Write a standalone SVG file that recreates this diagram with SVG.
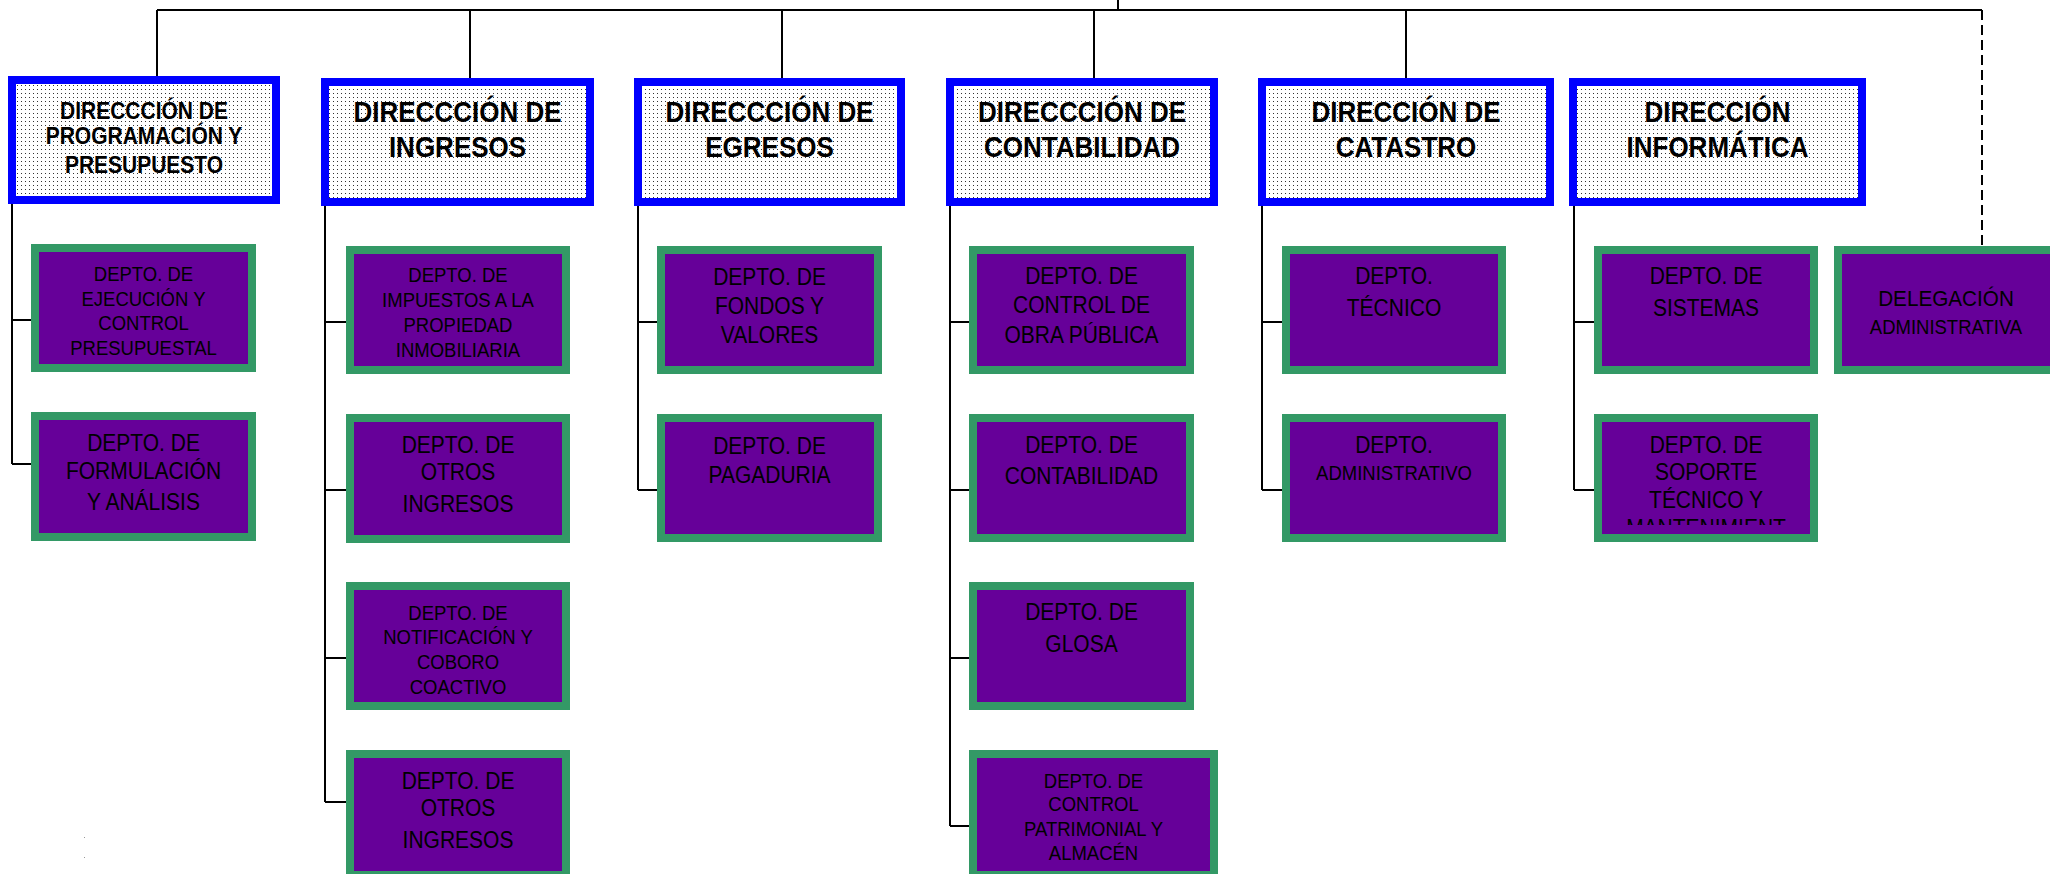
<svg xmlns="http://www.w3.org/2000/svg" width="2050" height="874" viewBox="0 0 2050 874">
<style>
.dir{fill:url(#dots);stroke:#0000FF;stroke-width:8}
.dep{fill:#660099;stroke:#339966;stroke-width:8}
.ln{fill:none;stroke:#000;stroke-width:2}
.dash{fill:none;stroke:#000;stroke-width:2;stroke-dasharray:10 5}
text{font-family:"Liberation Sans",Arial,sans-serif;text-anchor:middle;fill:#000}
.b{font-weight:bold}
.s18{font-size:18.5px}
.s21{font-size:21px}
.s26{font-size:26px}
</style>
<defs>
<pattern id="dots" width="4" height="4" patternUnits="userSpaceOnUse">
<rect width="4" height="4" fill="#fff"/>
<rect x="1" y="1" width="1" height="1" fill="#333"/>
</pattern>
<clipPath id="clip6b"><rect x="1590" y="410" width="240" height="115"/></clipPath>
</defs>
<rect width="2050" height="874" fill="#fff"/>
<g id="connectors">
<path class="ln" d="M1118,0 V10 M157,10 H1982 M157,10 V76 M470,10 V78 M782,10 V78 M1094,10 V78 M1406,10 V78"/>
<path class="dash" d="M1982,10 V246"/>
<path class="ln" d="M12,200 V464 M12,320 H31 M12,464 H31"/>
<path class="ln" d="M325,202 V802 M325,322 H346 M325,490 H346 M325,658 H346 M325,802 H346"/>
<path class="ln" d="M638,202 V490 M638,322 H657 M638,490 H657"/>
<path class="ln" d="M950,202 V826 M950,322 H969 M950,490 H969 M950,658 H969 M950,826 H969"/>
<path class="ln" d="M1262,202 V490 M1262,322 H1282 M1262,490 H1282"/>
<path class="ln" d="M1574,202 V490 M1574,322 H1594 M1574,490 H1594"/>
</g>
<g id="dir-programacion">
<rect class="dir" x="12" y="80" width="264" height="120"/>
<text class="b s21" transform="matrix(1 0 0 1.15 144 119)">DIRECCCIÓN DE</text>
<text class="b s21" transform="matrix(1 0 0 1.15 144 144)">PROGRAMACIÓN Y</text>
<text class="b s21" transform="matrix(1 0 0 1.15 144 172.5)">PRESUPUESTO</text>
</g>
<g id="dir-ingresos">
<rect class="dir" x="325" y="82" width="265" height="120"/>
<text class="b s26" transform="matrix(1 0 0 1.1 457.5 121.5)">DIRECCCIÓN DE</text>
<text class="b s26" transform="matrix(1 0 0 1.1 457.5 157)">INGRESOS</text>
</g>
<g id="dir-egresos">
<rect class="dir" x="638" y="82" width="263" height="120"/>
<text class="b s26" transform="matrix(1 0 0 1.1 769.5 121.5)">DIRECCCIÓN DE</text>
<text class="b s26" transform="matrix(1 0 0 1.1 769.5 157)">EGRESOS</text>
</g>
<g id="dir-contabilidad">
<rect class="dir" x="950" y="82" width="264" height="120"/>
<text class="b s26" transform="matrix(1 0 0 1.1 1082 121.5)">DIRECCCIÓN DE</text>
<text class="b s26" transform="matrix(1 0 0 1.1 1082 157)">CONTABILIDAD</text>
</g>
<g id="dir-catastro">
<rect class="dir" x="1262" y="82" width="288" height="120"/>
<text class="b s26" transform="matrix(1 0 0 1.1 1406 121.5)">DIRECCIÓN DE</text>
<text class="b s26" transform="matrix(1 0 0 1.1 1406 157)">CATASTRO</text>
</g>
<g id="dir-informatica">
<rect class="dir" x="1573" y="82" width="289" height="120"/>
<text class="b s26" transform="matrix(1 0 0 1.1 1717.5 121.5)">DIRECCIÓN</text>
<text class="b s26" transform="matrix(1 0 0 1.1 1717.5 157)">INFORMÁTICA</text>
</g>
<g id="depto-ejecucion">
<rect class="dep" x="35" y="248" width="217" height="120"/>
<text class="s18" transform="matrix(1 0 0 1.1 143.5 280.5)">DEPTO. DE</text>
<text class="s18" transform="matrix(1 0 0 1.1 143.5 306)">EJECUCIÓN Y</text>
<text class="s18" transform="matrix(1 0 0 1.1 143.5 330)">CONTROL</text>
<text class="s18" transform="matrix(1 0 0 1.1 143.5 355)">PRESUPUESTAL</text>
</g>
<g id="depto-formulacion">
<rect class="dep" x="35" y="416" width="217" height="121"/>
<text class="s21" transform="matrix(1 0 0 1.1 143.5 450.5)">DEPTO. DE</text>
<text class="s21" transform="matrix(1 0 0 1.1 143.5 478.5)">FORMULACIÓN</text>
<text class="s21" transform="matrix(1 0 0 1.1 143.5 509.5)">Y ANÁLISIS</text>
</g>
<g id="depto-impuestos">
<rect class="dep" x="350" y="250" width="216" height="120"/>
<text class="s18" transform="matrix(1 0 0 1.1 458 281.5)">DEPTO. DE</text>
<text class="s18" transform="matrix(1 0 0 1.1 458 306.5)">IMPUESTOS A LA</text>
<text class="s18" transform="matrix(1 0 0 1.1 458 331.5)">PROPIEDAD</text>
<text class="s18" transform="matrix(1 0 0 1.1 458 356.5)">INMOBILIARIA</text>
</g>
<g id="depto-otros-ingresos-1">
<rect class="dep" x="350" y="418" width="216" height="121"/>
<text class="s21" transform="matrix(1 0 0 1.1 458 452.5)">DEPTO. DE</text>
<text class="s21" transform="matrix(1 0 0 1.1 458 480)">OTROS</text>
<text class="s21" transform="matrix(1 0 0 1.1 458 511.5)">INGRESOS</text>
</g>
<g id="depto-notificacion">
<rect class="dep" x="350" y="586" width="216" height="120"/>
<text class="s18" transform="matrix(1 0 0 1.1 458 619.5)">DEPTO. DE</text>
<text class="s18" transform="matrix(1 0 0 1.1 458 643.5)">NOTIFICACIÓN Y</text>
<text class="s18" transform="matrix(1 0 0 1.1 458 668.5)">COBORO</text>
<text class="s18" transform="matrix(1 0 0 1.1 458 693.5)">COACTIVO</text>
</g>
<g id="depto-otros-ingresos-2">
<rect class="dep" x="350" y="754" width="216" height="121"/>
<text class="s21" transform="matrix(1 0 0 1.1 458 788.5)">DEPTO. DE</text>
<text class="s21" transform="matrix(1 0 0 1.1 458 816)">OTROS</text>
<text class="s21" transform="matrix(1 0 0 1.1 458 847.5)">INGRESOS</text>
</g>
<g id="depto-fondos">
<rect class="dep" x="661" y="250" width="217" height="120"/>
<text class="s21" transform="matrix(1 0 0 1.1 769.5 284.5)">DEPTO. DE</text>
<text class="s21" transform="matrix(1 0 0 1.1 769.5 313.5)">FONDOS Y</text>
<text class="s21" transform="matrix(1 0 0 1.1 769.5 342.5)">VALORES</text>
</g>
<g id="depto-pagaduria">
<rect class="dep" x="661" y="418" width="217" height="120"/>
<text class="s21" transform="matrix(1 0 0 1.1 769.5 453.5)">DEPTO. DE</text>
<text class="s21" transform="matrix(1 0 0 1.1 769.5 482.5)">PAGADURIA</text>
</g>
<g id="depto-obra-publica">
<rect class="dep" x="973" y="250" width="217" height="120"/>
<text class="s21" transform="matrix(1 0 0 1.1 1081.5 284)">DEPTO. DE</text>
<text class="s21" transform="matrix(1 0 0 1.1 1081.5 312.5)">CONTROL DE</text>
<text class="s21" transform="matrix(1 0 0 1.1 1081.5 342.5)">OBRA PÚBLICA</text>
</g>
<g id="depto-contabilidad">
<rect class="dep" x="973" y="418" width="217" height="120"/>
<text class="s21" transform="matrix(1 0 0 1.1 1081.5 452.5)">DEPTO. DE</text>
<text class="s21" transform="matrix(1 0 0 1.1 1081.5 483.5)">CONTABILIDAD</text>
</g>
<g id="depto-glosa">
<rect class="dep" x="973" y="586" width="217" height="120"/>
<text class="s21" transform="matrix(1 0 0 1.1 1081.5 620)">DEPTO. DE</text>
<text class="s21" transform="matrix(1 0 0 1.1 1081.5 651.5)">GLOSA</text>
</g>
<g id="depto-patrimonial">
<rect class="dep" x="973" y="754" width="241" height="121"/>
<text class="s18" transform="matrix(1 0 0 1.1 1093.5 787.5)">DEPTO. DE</text>
<text class="s18" transform="matrix(1 0 0 1.1 1093.5 811)">CONTROL</text>
<text class="s18" transform="matrix(1 0 0 1.1 1093.5 836)">PATRIMONIAL Y</text>
<text class="s18" transform="matrix(1 0 0 1.1 1093.5 860)">ALMACÉN</text>
</g>
<g id="depto-tecnico">
<rect class="dep" x="1286" y="250" width="216" height="120"/>
<text class="s21" transform="matrix(1 0 0 1.1 1394 284)">DEPTO.</text>
<text class="s21" transform="matrix(1 0 0 1.1 1394 315.5)">TÉCNICO</text>
</g>
<g id="depto-administrativo">
<rect class="dep" x="1286" y="418" width="216" height="120"/>
<text class="s21" transform="matrix(1 0 0 1.1 1394 452.5)">DEPTO.</text>
<text class="s18" transform="matrix(1 0 0 1.1 1394 479.5)">ADMINISTRATIVO</text>
</g>
<g id="depto-sistemas">
<rect class="dep" x="1598" y="250" width="216" height="120"/>
<text class="s21" transform="matrix(1 0 0 1.1 1706 284)">DEPTO. DE</text>
<text class="s21" transform="matrix(1 0 0 1.1 1706 315.5)">SISTEMAS</text>
</g>
<g id="depto-soporte">
<rect class="dep" x="1598" y="418" width="216" height="120"/>
<g clip-path="url(#clip6b)">
<text class="s21" transform="matrix(1 0 0 1.1 1706 452.5)">DEPTO. DE</text>
<text class="s21" transform="matrix(1 0 0 1.1 1706 480)">SOPORTE</text>
<text class="s21" transform="matrix(1 0 0 1.1 1706 507.5)">TÉCNICO Y</text>
<text class="s21" transform="matrix(1 0 0 1.1 1706 535.5)">MANTENIMIENT</text>
</g>
</g>
<g id="delegacion">
<rect class="dep" x="1838" y="250" width="217" height="120"/>
<text class="s21" style="font-size:20.7px" transform="matrix(1 0 0 1.1 1946 306)">DELEGACIÓN</text>
<text class="s18" transform="matrix(1 0 0 1.1 1946 334)">ADMINISTRATIVA</text>
</g>
<rect x="84" y="837" width="1" height="1" fill="#999"/>
<rect x="84" y="857" width="1" height="1" fill="#999"/>
</svg>
